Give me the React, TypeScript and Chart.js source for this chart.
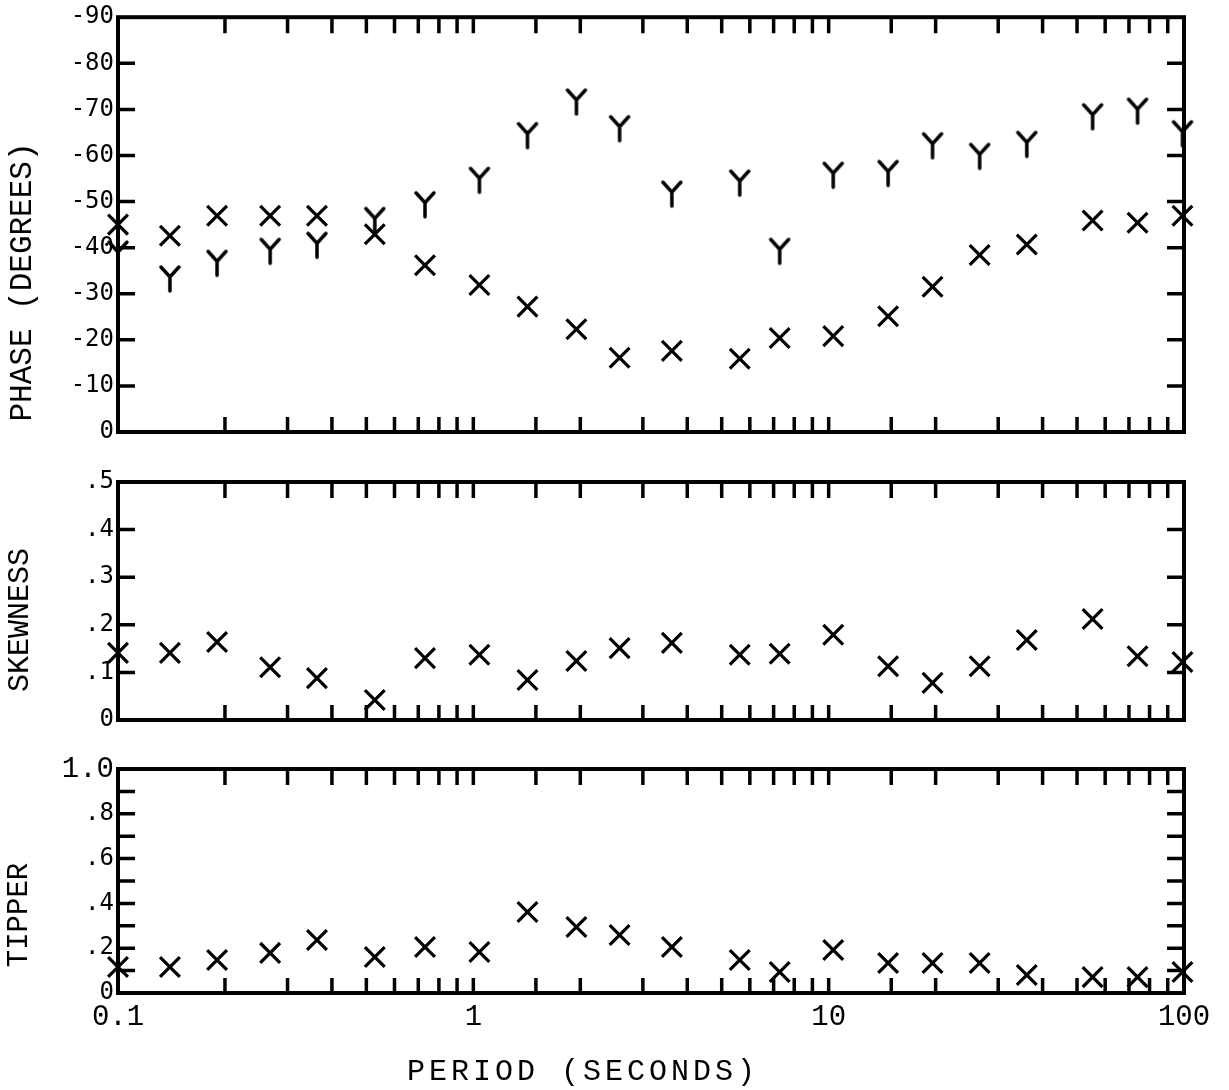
import React, { useEffect, useRef } from 'react';
import { Chart, registerables } from 'chart.js';

Chart.register(...registerables);

// ---- data ----
const periods = [0.1, 0.14, 0.19, 0.268, 0.363, 0.528, 0.731, 1.04, 1.42, 1.95, 2.58, 3.62, 5.62, 7.28, 10.3, 14.7, 19.6, 26.6, 36.1, 55.3, 74.0, 99.0];
const phaseX = [-45.0, -42.6, -46.9, -46.9, -46.9, -42.9, -36.2, -31.9, -27.2, -22.3, -16.1, -17.6, -15.9, -20.4, -20.8, -25.1, -31.5, -38.4, -40.7, -45.9, -45.4, -46.9];
const phaseY = [-38.6, -33.2, -36.6, -39.2, -40.5, -45.9, -49.3, -54.6, -64.3, -71.6, -65.8, -51.6, -54.0, -39.2, -55.7, -56.1, -62.1, -59.8, -62.4, -68.4, -69.6, -64.7];
const skewness = [0.141, 0.141, 0.164, 0.111, 0.088, 0.042, 0.130, 0.137, 0.084, 0.124, 0.151, 0.162, 0.137, 0.139, 0.179, 0.113, 0.078, 0.113, 0.168, 0.212, 0.134, 0.122];
const tipper = [0.116, 0.116, 0.147, 0.179, 0.237, 0.161, 0.205, 0.183, 0.362, 0.295, 0.259, 0.205, 0.147, 0.094, 0.192, 0.134, 0.134, 0.134, 0.08, 0.071, 0.071, 0.094];

const xTickValues = [0.1, 1, 10, 100];
const xTickLabels = ['0.1', '1', '10', '100'];
const phaseLabels = ['-90', '-80', '-70', '-60', '-50', '-40', '-30', '-20', '-10', '0'];
const skewLabels = ['.5', '.4', '.3', '.2', '.1', '0'];
const tipperLabels = ['1.0', '', '.8', '', '.6', '', '.4', '', '.2', '', '0'];

const SANS = "'DejaVu Sans Mono', monospace";
const MONO = "'Liberation Mono', 'Courier New', monospace";

const W = 1229;
const PLOT_LEFT = 118;
const PLOT_RIGHT = 1184;

function yGlyph(): HTMLCanvasElement {
  const c = document.createElement('canvas');
  c.width = 24;
  c.height = 30;
  const g = c.getContext('2d')!;
  g.strokeStyle = '#000';
  g.lineWidth = 3.5;
  g.lineCap = 'round';
  g.beginPath();
  g.moveTo(3, 3);
  g.lineTo(12, 13);
  g.lineTo(21, 3);
  g.moveTo(12, 13);
  g.lineTo(12, 27);
  g.stroke();
  return c;
}

type TitleSpec = { text: string; x: number; y: number; size: number; rotate: boolean; spacing?: number };

function framePlugin(titles: TitleSpec[]) {
  return {
    id: 'frame',
    beforeDatasetsDraw(chart: any) {
      const { ctx, chartArea: a } = chart;
      const xs = chart.scales.x;
      const ys = chart.scales.y;
      ctx.save();
      ctx.strokeStyle = '#000';
      ctx.lineWidth = 4;
      ctx.strokeRect(a.left, a.top, a.right - a.left, a.bottom - a.top);
      ctx.lineWidth = 3.5;
      ctx.beginPath();
      for (const t of xs.ticks) {
        const p = xs.getPixelForValue(t.value);
        if (p <= a.left + 3 || p >= a.right - 3) continue;
        ctx.moveTo(p, a.top);
        ctx.lineTo(p, a.top + 16);
        ctx.moveTo(p, a.bottom);
        ctx.lineTo(p, a.bottom - 15);
      }
      for (const t of ys.ticks) {
        const p = ys.getPixelForValue(t.value);
        if (p <= a.top + 3 || p >= a.bottom - 3) continue;
        ctx.moveTo(a.left, p);
        ctx.lineTo(a.left + 17, p);
        ctx.moveTo(a.right, p);
        ctx.lineTo(a.right - 17, p);
      }
      ctx.stroke();
      ctx.restore();
    },
    afterDraw(chart: any) {
      const ctx = chart.ctx;
      for (const t of titles) {
        ctx.save();
        ctx.fillStyle = '#000';
        ctx.font = `${t.size}px ${MONO}`;
        ctx.textAlign = 'center';
        ctx.textBaseline = 'middle';
        if (t.spacing) (ctx as any).letterSpacing = `${t.spacing}px`;
        ctx.translate(t.x, t.y);
        if (t.rotate) ctx.rotate(-Math.PI / 2);
        ctx.fillText(t.text, 0, 0);
        ctx.restore();
      }
    },
  };
}

const fixY = (s: any) => {
  s.width = PLOT_LEFT;
  s.paddingTop = 0;
  s.paddingBottom = 0;
};

function xSeries(values: number[]) {
  return {
    data: periods.map((p, i) => ({ x: p, y: values[i] })),
    showLine: false,
    pointStyle: 'crossRot',
    pointRadius: 14,
    pointHoverRadius: 14,
    pointBorderWidth: 3.2,
    borderColor: '#000',
    backgroundColor: '#000',
    clip: false,
  };
}

function ySeries(values: number[], glyph: HTMLCanvasElement) {
  return {
    data: periods.map((p, i) => ({ x: p, y: values[i] })),
    showLine: false,
    pointStyle: glyph,
    pointRadius: 12,
    pointHoverRadius: 12,
    borderColor: '#000',
    backgroundColor: '#000',
    clip: false,
  };
}

function yScale(min: number, max: number, step: number, labels: string[], reverse: boolean, fontFn: (v: number) => any) {
  return {
    type: 'linear',
    min,
    max,
    reverse,
    afterFit: fixY,
    grid: { display: false, drawTicks: false },
    border: { display: false },
    ticks: {
      stepSize: step,
      autoSkip: false,
      padding: 4,
      color: '#000',
      font: (c: any) => fontFn(c.tick ? c.tick.value : 0),
      callback: (v: number) => {
        const idx = Math.round((reverse ? v - min : max - v) / step);
        return labels[idx] ?? '';
      },
    },
  };
}

function baseConfig(datasets: any[], padTop: number, padBottom: number, y: any, x: any, titles: TitleSpec[]) {
  return {
    type: 'scatter',
    data: { datasets },
    options: {
      responsive: false,
      animation: false,
      events: [],
      layout: { padding: { top: padTop, bottom: padBottom, left: 0, right: W - PLOT_RIGHT } },
      plugins: { legend: { display: false }, tooltip: { enabled: false } },
      scales: { x, y },
    },
    plugins: [framePlugin(titles)],
  } as any;
}

const hiddenX = { type: 'logarithmic', min: 0.1, max: 100, display: false };

export default function App() {
  const r1 = useRef<HTMLCanvasElement>(null);
  const r2 = useRef<HTMLCanvasElement>(null);
  const r3 = useRef<HTMLCanvasElement>(null);

  useEffect(() => {
    const glyph = yGlyph();
    const top = baseConfig(
      [xSeries(phaseX), ySeries(phaseY, glyph)],
      12,
      28,
      yScale(-90, 0, 10, phaseLabels, true, () => ({ family: SANS, size: 24 })),
      hiddenX,
      [{ text: 'PHASE (DEGREES)', x: 23, y: 282, size: 31, rotate: true }]
    );
    const mid = baseConfig(
      [xSeries(skewness)],
      22,
      25,
      yScale(0, 0.5, 0.1, skewLabels, false, () => ({ family: SANS, size: 24 })),
      hiddenX,
      [{ text: 'SKEWNESS', x: 20, y: 160, size: 30, rotate: true }]
    );
    const bottomX = {
      type: 'logarithmic',
      min: 0.1,
      max: 100,
      afterFit: (s: any) => {
        s.height = 97;
        s.paddingLeft = 0;
        s.paddingRight = 0;
      },
      grid: { display: false, drawTicks: false },
      border: { display: false },
      ticks: {
        autoSkip: false,
        maxRotation: 0,
        minRotation: 0,
        padding: 7,
        color: '#000',
        font: { family: MONO, size: 29 },
        callback: (v: number) => {
          const i = xTickValues.findIndex((t) => Math.abs(t - v) / t < 1e-6);
          return i >= 0 ? xTickLabels[i] : '';
        },
      },
    };
    const bot = baseConfig(
      [xSeries(tipper)],
      24,
      0,
      yScale(0, 1, 0.1, tipperLabels, false, (v) =>
        Math.abs(v - 1) < 1e-6 ? { family: MONO, size: 29 } : { family: SANS, size: 24 }
      ),
      bottomX,
      [
        { text: 'TIPPER', x: 19, y: 170, size: 29, rotate: true },
        { text: 'PERIOD (SECONDS)', x: 583, y: 327, size: 30, rotate: false, spacing: 4 },
      ]
    );
    const charts = [new Chart(r1.current!, top), new Chart(r2.current!, mid), new Chart(r3.current!, bot)];
    return () => charts.forEach((c) => c.destroy());
  }, []);

  return (
    <div style={{ position: 'absolute', left: 0, top: 0, width: W, height: 1090, background: '#fff', overflow: 'hidden' }}>
      <canvas ref={r1} width={W} height={460} style={{ position: 'absolute', left: 0, top: 0 }} />
      <canvas ref={r2} width={W} height={285} style={{ position: 'absolute', left: 0, top: 460 }} />
      <canvas ref={r3} width={W} height={345} style={{ position: 'absolute', left: 0, top: 745 }} />
    </div>
  );
}
